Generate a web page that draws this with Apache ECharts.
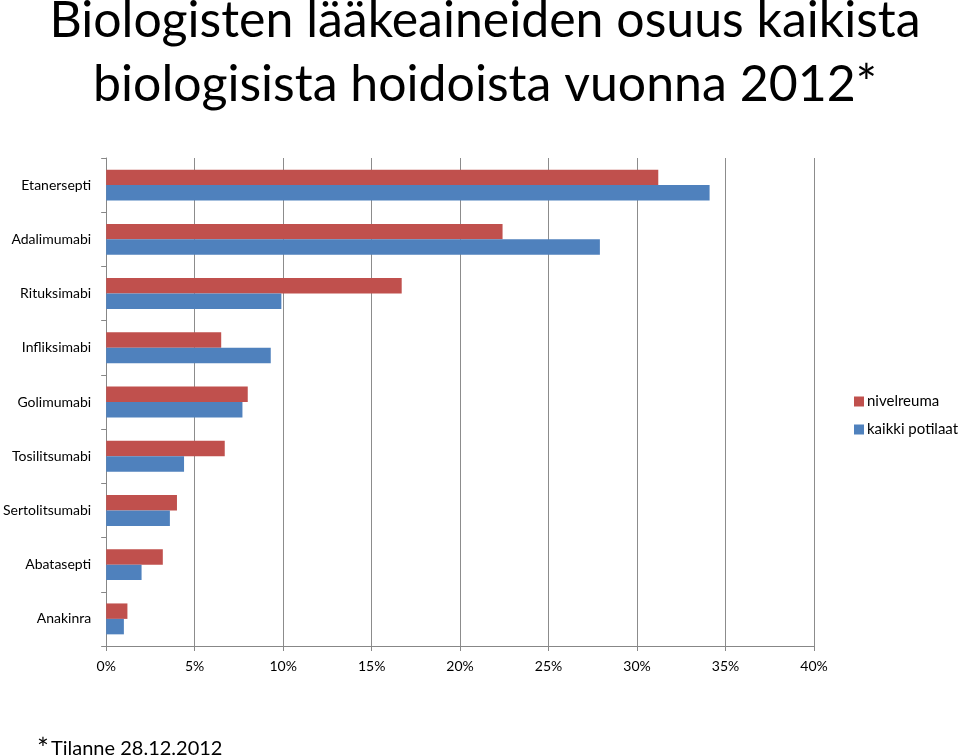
<!DOCTYPE html>
<html>
<head>
<meta charset="utf-8">
<script src="https://cdn.jsdelivr.net/npm/echarts@6/dist/echarts.min.js"></script>
<style>
  html, body { margin: 0; padding: 0; background: #fff; }
  #chart { width: 960px; height: 756px; }
</style>
</head>
<body>
<div id="chart"></div>
<script>
// lääkkeet ylhäältä alas
var categories = ['Etanersepti', 'Adalimumabi', 'Rituksimabi', 'Infliksimabi', 'Golimumabi',
  'Tosilitsumabi', 'Sertolitsumabi', 'Abatasepti', 'Anakinra'];
// osuudet prosentteina (luettu kuvasta)
var nivelreuma = [31.2, 22.4, 16.7, 6.5, 8.0, 6.7, 4.0, 3.2, 1.2];
var kaikkiPotilaat = [34.1, 27.9, 9.9, 9.3, 7.7, 4.4, 3.6, 2.0, 1.0];
var xTicks = [0, 5, 10, 15, 20, 25, 30, 35, 40];

var font = 'Lato, "Open Sans", sans-serif';
var myChart = echarts.init(document.getElementById('chart'));

myChart.setOption({
  animation: false,
  textStyle: { fontFamily: font },
  title: {
    text: 'Biologisten lääkeaineiden osuus kaikista\nbiologisista hoidoista vuonna 2012*',
    left: 480,
    top: -16,
    textAlign: 'center',
    textStyle: { fontSize: 50, fontWeight: 'normal', color: '#000', lineHeight: 64, fontFamily: font }
  },
  legend: {
    orient: 'vertical',
    left: 849,
    top: 389,
    itemWidth: 10,
    itemHeight: 10,
    itemGap: 13,
    icon: 'rect',
    textStyle: { fontSize: 15, color: '#000', padding: [0, 0, 0, -2] },
    data: ['nivelreuma', 'kaikki potilaat']
  },
  grid: { left: 104, right: 146, top: 158, bottom: 110 },
  xAxis: {
    type: 'value',
    min: 0,
    max: 40,
    interval: 5,
    axisLine: { show: true, lineStyle: { color: '#878787' } },
    axisTick: { show: true, length: 5, lineStyle: { color: '#878787' } },
    axisLabel: { fontSize: 14, color: '#000', margin: 13, formatter: function (v) {
      return xTicks.indexOf(v) >= 0 ? v + '%' : '';
    } },
    splitLine: { show: true, lineStyle: { color: '#8c8c8c', width: 1 } }
  },
  yAxis: {
    type: 'category',
    inverse: true,
    data: categories,
    axisLine: { show: true, lineStyle: { color: '#878787' } },
    axisTick: { show: true, length: 5, lineStyle: { color: '#878787' } },
    axisLabel: { fontSize: 14, color: '#000', margin: 15 }
  },
  series: [
    {
      name: 'nivelreuma',
      type: 'bar',
      data: nivelreuma,
      barGap: '0%',
      barCategoryGap: '43%',
      itemStyle: { color: '#C0504D' }
    },
    {
      name: 'kaikki potilaat',
      type: 'bar',
      data: kaikkiPotilaat,
      itemStyle: { color: '#4F81BD' }
    }
  ],
  graphic: [
    {
      type: 'text',
      x: 37,
      y: 736,
      style: { text: '*', fontSize: 28, fontFamily: font, fill: '#000', verticalAlign: 'top' }
    },
    {
      type: 'text',
      x: 51,
      y: 739,
      style: { text: 'Tilanne 28.12.2012', fontSize: 20, fontFamily: font, fill: '#000', verticalAlign: 'top' }
    }
  ]
});
</script>
</body>
</html>
